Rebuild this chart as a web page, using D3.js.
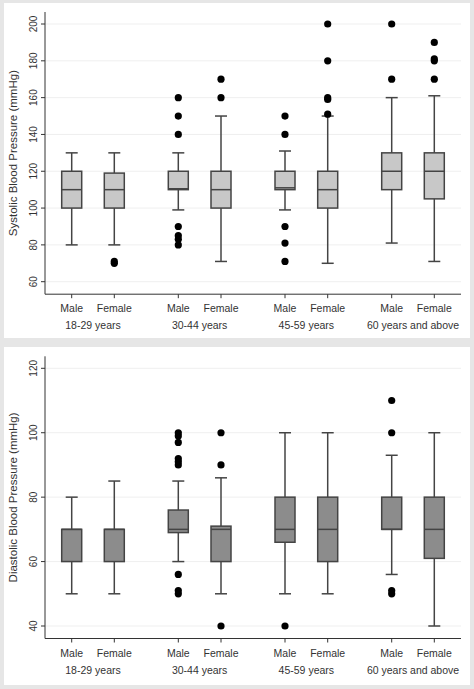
<!DOCTYPE html><html><head><meta charset="utf-8">
<script src="https://cdn.jsdelivr.net/npm/d3@7"></script>
<style>body{margin:0;background:#e6e6e6}svg{display:block}</style></head><body>
<svg id="c" width="474" height="689"></svg>
<script>
const sexes=["Male","Female"];
const groups=["18-29 years","30-44 years","45-59 years","60 years and above"];
// [min whisker, q1, median, q3, max whisker]
const sysStats=[[80,100,110,120,130],[80,100,110,119,130],[99,110,110.5,120,130],[71,100,110,120,150],[99,110,111,120,131],[70,100,110,120,150],[81,110,120,130,160],[71,105,120,130,161]];
const sysOut=[[],[70,71],[160,150,140,90,85,83,80],[160,170],[150,140,90,81,71],[200,180,160,159,151],[200,170],[190,181,180,170]];
const diaStats=[[50,60,70,70,80],[50,60,70,70,85],[60,69,70,76,85],[50,60,70,71,86],[50,66,70,80,100],[50,60,70,80,100],[56,70,70,80,93],[40,61,70,80,100]];
const diaOut=[[],[],[100,99,97,92,91,90,56,51,50],[100,90,40],[40],[],[110,100,51,50],[]];
const sysTicks=[60,80,100,120,140,160,180,200];
const diaTicks=[40,60,80,100,120];
const svg=d3.select("#c");
const xs=[71.7,114.3,178.3,221,285,327.7,391.7,434.3];
function panel(top,h,stats,outs,ticks,dom,rng,fill,title){
  svg.append("rect").attr("x",4).attr("y",top).attr("width",466).attr("height",h).attr("fill","#fff");
  const g=svg.append("g");
  const y=d3.scaleLinear().domain(dom).range(rng);
  const x=d3.scalePoint().domain(d3.range(8)).range([xs[0],xs[7]]);
  const xp=i=>xs[i];
  const L=45,R=461,T=rng[1]-(y(ticks[ticks.length-1])-rng[1])*0-12,B=rng[0]+12.5;
  ticks.forEach(t=>g.append("line").attr("x1",L).attr("x2",R).attr("y1",y(t)).attr("y2",y(t)).attr("stroke","#efefef"));
  g.append("line").attr("x1",L).attr("x2",L).attr("y1",T).attr("y2",B).attr("stroke","#333");
  g.append("line").attr("x1",L).attr("x2",R).attr("y1",B).attr("y2",B).attr("stroke","#333");
  ticks.forEach(t=>{
    g.append("line").attr("x1",L-4).attr("x2",L).attr("y1",y(t)).attr("y2",y(t)).attr("stroke","#333");
    g.append("text").attr("transform",`translate(${L-8},${y(t)}) rotate(-90)`).attr("text-anchor","middle").attr("font-size",10).attr("fill","#333").attr("font-family","Liberation Sans").text(t);
  });
  g.append("text").attr("transform",`translate(17,${(T+B)/2}) rotate(-90)`).attr("text-anchor","middle").attr("font-size",11.5).attr("fill","#333").attr("font-family","Liberation Sans").text(title);
  stats.forEach((s,i)=>{
    const cx=xp(i),w=10;
    g.append("line").attr("x1",cx).attr("x2",cx).attr("y1",B).attr("y2",B+4).attr("stroke","#333");
    g.append("text").attr("x",cx).attr("y",B+18).attr("text-anchor","middle").attr("font-size",10.5).attr("fill","#333").attr("font-family","Liberation Sans").text(sexes[i%2]);
    const st={"stroke":"#444","stroke-width":1.5};
    const ln=(x1,x2,y1,y2)=>g.append("line").attr("x1",x1).attr("x2",x2).attr("y1",y1).attr("y2",y2).attr("stroke","#444").attr("stroke-width",1.5);
    ln(cx,cx,y(s[0]),y(s[1]));ln(cx,cx,y(s[3]),y(s[4]));
    ln(cx-6,cx+6,y(s[0]),y(s[0]));ln(cx-6,cx+6,y(s[4]),y(s[4]));
    g.append("rect").attr("x",cx-w).attr("width",2*w).attr("y",y(s[3])).attr("height",y(s[1])-y(s[3])).attr("fill",fill).attr("stroke","#444").attr("stroke-width",1.5);
    ln(cx-w,cx+w,y(s[2]),y(s[2]));
    outs[i].forEach(o=>g.append("circle").attr("cx",cx).attr("cy",y(o)).attr("r",3.6).attr("fill","#000"));
  });
  groups.forEach((gname,k)=>g.append("text").attr("x",(xp(2*k)+xp(2*k+1))/2).attr("y",B+35).attr("text-anchor","middle").attr("font-size",10.5).attr("fill","#333").attr("font-family","Liberation Sans").text(gname));
}
panel(3,335,sysStats,sysOut,sysTicks,[60,200],[281.7,24],"#c8c8c8","Systolic Blood Pressure (mmHg)");
panel(347,338,diaStats,diaOut,diaTicks,[40,120],[626,368.3],"#8c8c8c","Diastolic Blood Pressure (mmHg)");
</script></body></html>
